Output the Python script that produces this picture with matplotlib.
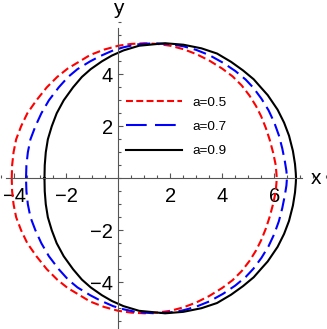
import numpy as np
import matplotlib
matplotlib.use("Agg")
import matplotlib.pyplot as plt
from matplotlib.lines import Line2D
from matplotlib.ticker import MultipleLocator, FixedLocator

plt.rcParams['font.family'] = ['Liberation Sans', 'DejaVu Sans']
plt.rcParams['lines.scale_dashes'] = False

# upper half of each closed curve (lower half is the mirror image)
red_x = np.array([-4.10, -4.085, -4.03, -3.93, -3.74, -3.50, -3.15, -2.75, -2.35, -1.95,
                  -1.45, -1.09, -0.55, 0.00, 0.50, 1.00, 1.50, 2.00, 2.50, 3.00,
                  3.50, 4.00, 4.40, 4.75, 5.05, 5.30, 5.50, 5.68, 5.83, 5.96,
                  6.06, 6.10])
red_y = np.array([0.00, 0.50, 1.00, 1.50, 2.00, 2.50, 3.00, 3.50, 3.90, 4.22,
                  4.52, 4.74, 4.95, 5.10, 5.17, 5.196, 5.17, 5.10, 4.97, 4.78,
                  4.53, 4.22, 3.92, 3.57, 3.18, 2.78, 2.38, 1.93, 1.47, 0.98,
                  0.50, 0.00])

blue_x = np.array([-3.55, -3.535, -3.48, -3.38, -3.19, -2.96, -2.67, -2.29, -1.93, -1.57,
                   -1.08, -0.70, -0.20, 0.20, 0.70, 1.40, 2.00, 2.50, 3.00, 3.50,
                   4.04, 4.50, 4.90, 5.20, 5.51, 5.78, 6.00, 6.18, 6.31, 6.41,
                   6.47, 6.49])
blue_y = np.array([0.00, 0.50, 1.00, 1.50, 2.00, 2.50, 3.00, 3.50, 3.90, 4.20,
                   4.50, 4.70, 4.92, 5.04, 5.15, 5.196, 5.16, 5.08, 4.94, 4.74,
                   4.44, 4.13, 3.80, 3.48, 3.06, 2.62, 2.15, 1.65, 1.15, 0.65,
                   0.28, 0.00])

black_x = np.array([-2.84, -2.83, -2.79, -2.71, -2.56, -2.37, -2.10, -1.74, -1.40, -1.06,
                    -0.63, -0.25, 0.20, 0.80, 1.80, 2.50, 3.20, 3.80, 4.34, 4.80,
                    5.21, 5.50, 5.75, 6.13, 6.38, 6.57, 6.72, 6.80, 6.83, 6.84])
black_y = np.array([0.00, 0.50, 1.00, 1.50, 2.00, 2.50, 3.00, 3.50, 3.90, 4.20,
                    4.50, 4.72, 4.92, 5.10, 5.196, 5.14, 5.00, 4.80, 4.48, 4.15,
                    3.81, 3.48, 3.20, 2.64, 2.14, 1.64, 1.05, 0.55, 0.20, 0.00])

labels = ['a=0.5', 'a=0.7', 'a=0.9']
colors = ['#ff0000', '#0000ff', '#000000']
x_ticks = [-4, -2, 2, 4, 6]
y_ticks = [-4, -2, 2, 4]


def closed(xu, yu):
    # upper half then the mirrored lower half
    return np.concatenate([xu, xu[::-1]]), np.concatenate([yu, -yu[::-1]])


fig = plt.figure(figsize=(3.27, 3.29), dpi=100)
ax = fig.add_axes([0, 0, 1, 1])
ax.set_xlim(-4.55, 8.03)
ax.set_ylim(-5.80, 6.86)
ax.set_aspect('equal')

lw = 1.5
styles = [dict(dashes=(5.8, 2.9)), dict(dashes=(9.4, 4.3)), dict(linestyle='-')]
for (xu, yu), c, st in zip([(red_x, red_y), (blue_x, blue_y), (black_x, black_y)], colors, styles):
    xs, ys = closed(xu, yu)
    ax.plot(xs, ys, color=c, lw=lw, solid_joinstyle='round', **st)

# axes through the origin
axcol = '#555555'
for side in ['top', 'right']:
    ax.spines[side].set_visible(False)
ax.spines['left'].set_position(('data', 0))
ax.spines['bottom'].set_position(('data', 0))
ax.spines['bottom'].set_bounds(-4.32, 7.07)
ax.spines['left'].set_bounds(-5.80, 5.78)
for side in ['left', 'bottom']:
    ax.spines[side].set_color(axcol)
    ax.spines[side].set_linewidth(0.8)

ax.xaxis.set_major_locator(FixedLocator(x_ticks))
ax.yaxis.set_major_locator(FixedLocator(y_ticks))
ax.xaxis.set_minor_locator(MultipleLocator(0.5))
ax.yaxis.set_minor_locator(MultipleLocator(0.5))
ax.tick_params(which='both', direction='in', color=axcol, width=0.8)
ax.tick_params(which='major', length=3.8, labelsize=14.5)
ax.tick_params(which='minor', length=2.0)
ax.tick_params(axis='x', which='major', pad=6.5)
ax.tick_params(axis='y', which='major', pad=4)

ax.text(7.62, 0.0, 'x', fontsize=15, ha='center', va='center')
ax.text(0.0, 6.55, 'y', fontsize=15, ha='center', va='center')

handles = [Line2D([], [], color=colors[0], lw=lw, dashes=(5.0, 2.4)),
           Line2D([], [], color=colors[1], lw=lw, dashes=(14.9, 6.0)),
           Line2D([], [], color=colors[2], lw=lw)]
ax.legend(handles, labels, loc='upper left', bbox_to_anchor=(0.385, 0.707),
          frameon=False, fontsize=9.7, handlelength=4.2, handletextpad=0.74,
          labelspacing=0.88, borderpad=0, borderaxespad=0)

fig.savefig('out.png', dpi=100)
